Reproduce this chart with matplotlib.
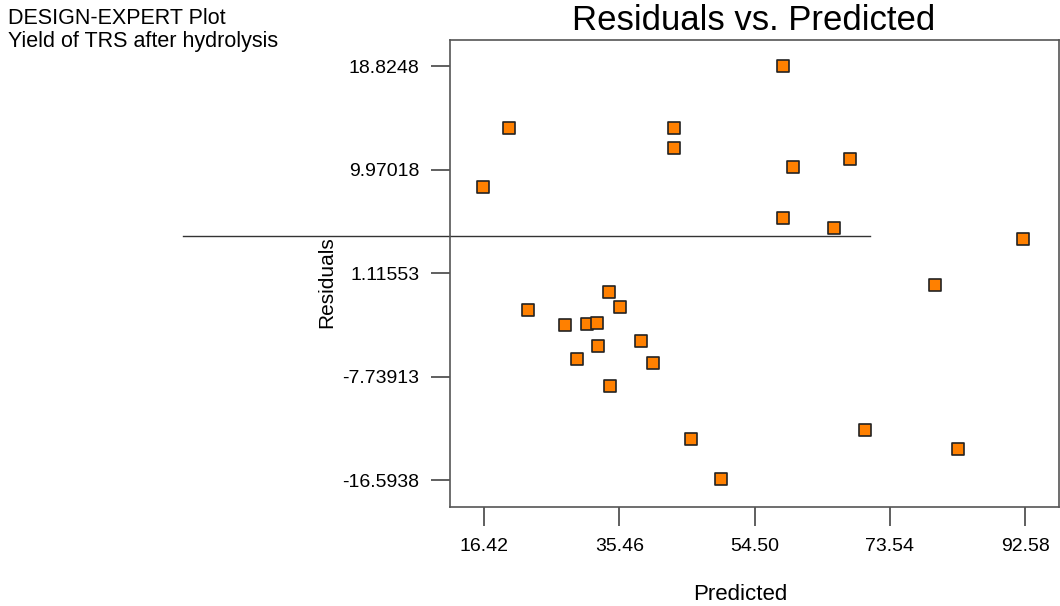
import matplotlib
matplotlib.use('Agg')
from matplotlib import pyplot as plt
from matplotlib import font_manager

# predicted values and residuals of each run
predicted = [16.32, 19.94, 22.65, 27.82, 29.51, 30.91, 32.32, 32.50, 34.05, 34.19,
             35.56, 38.47, 40.16, 43.11, 43.11, 45.55, 49.81, 58.54, 58.54, 59.94,
             65.71, 67.88, 70.08, 79.84, 83.16, 92.31]
residuals = [8.45, 13.55, -2.08, -3.36, -6.27, -3.22, -3.19, -5.16, -0.51, -8.53,
             -1.77, -4.73, -6.61, 13.52, 11.83, -13.06, -16.53, 18.85, 5.85, 10.21,
             4.99, 10.84, -12.34, 0.09, -13.94, 4.00]

x_ticks = [16.42, 35.46, 54.50, 73.54, 92.58]
x_tick_labels = ['16.42', '35.46', '54.50', '73.54', '92.58']
y_ticks = [18.8248, 9.97018, 1.11553, -7.73913, -16.5938]
y_tick_labels = ['18.8248', '9.97018', '1.11553', '-7.73913', '-16.5938']

# reference line (drawn past the left edge of the frame)
ref_x = [-25.94, 70.74]
ref_y = [4.28, 4.28]

names = {f.name for f in font_manager.fontManager.ttflist}
font = 'Liberation Sans' if 'Liberation Sans' in names else 'DejaVu Sans'
plt.rcParams['font.family'] = font

fig = plt.figure(figsize=(10.6, 6.06), dpi=100)
ax = fig.add_axes([450 / 1060, 1 - 507 / 606, 609 / 1060, 467 / 606])

ax.plot(ref_x, ref_y, color='#333333', lw=1.0, clip_on=False, zorder=1)
ax.scatter(predicted, residuals, marker='s', s=70, facecolor='#ff8000',
           edgecolor='#222222', linewidth=1.2, zorder=3)

ax.set_xlim(11.64, 97.33)
ax.set_ylim(-18.90, 21.05)

ax.set_xticks(x_ticks)
ax.set_xticklabels(x_tick_labels)
ax.set_yticks(y_ticks)
ax.set_yticklabels(y_tick_labels)
ax.tick_params(axis='both', direction='out', length=14, width=1.2, color='#444444',
               labelsize=14)
ax.tick_params(axis='y', pad=8)
ax.tick_params(axis='x', pad=8)
for s in ax.spines.values():
    s.set_color('#555555')
    s.set_linewidth(1.2)

fig.text(754 / 1060, 1 - 20 / 606, 'Residuals vs. Predicted', fontsize=25,
         ha='center', va='center')
fig.text(8 / 1060, 1 - 19 / 606, 'DESIGN-EXPERT Plot', fontsize=15.5, va='center')
fig.text(8 / 1060, 1 - 41 / 606, 'Yield of TRS after hydrolysis', fontsize=15.5, va='center')
fig.text(740 / 1060, 1 - 595 / 606, 'Predicted', fontsize=16, ha='center', va='center')
fig.text(327 / 1060, 1 - 282 / 606, 'Residuals', fontsize=15,
         rotation=90, ha='center', va='center')

fig.savefig('out.png', dpi=100)
